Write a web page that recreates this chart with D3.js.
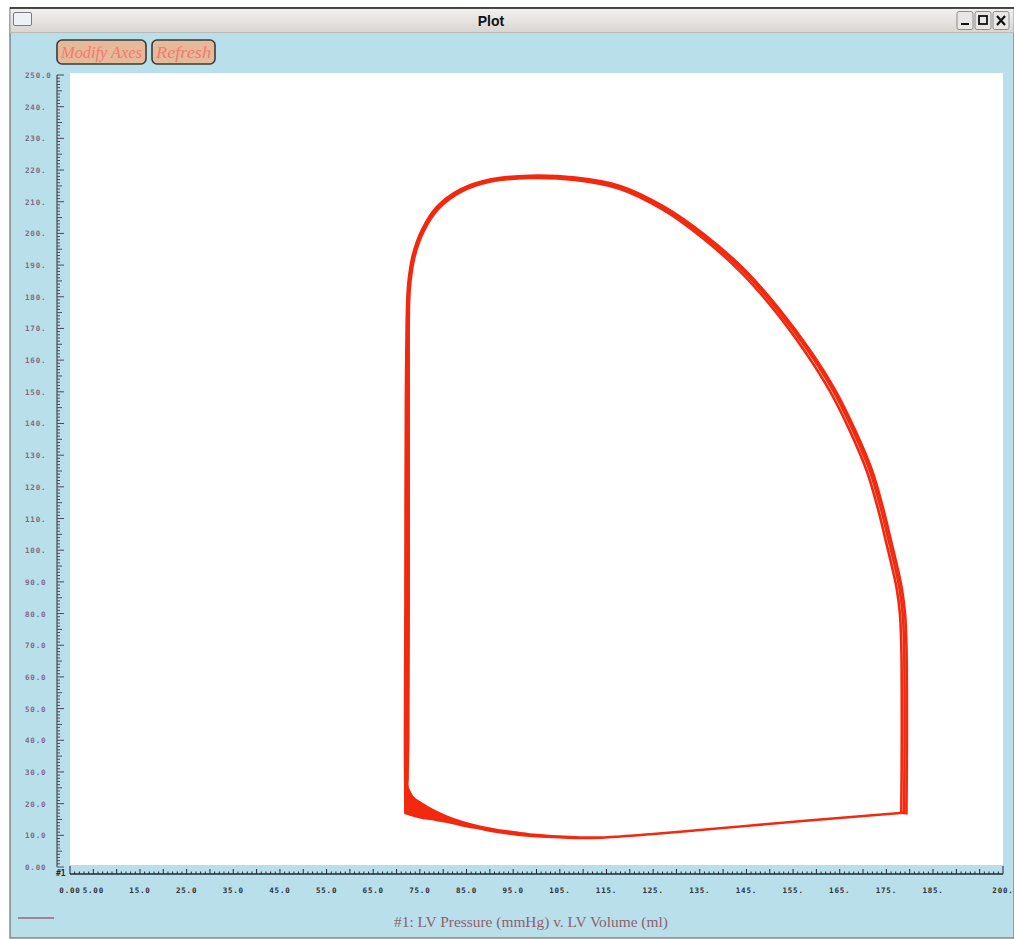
<!DOCTYPE html>
<html>
<head>
<meta charset="utf-8">
<script src="https://cdn.jsdelivr.net/npm/d3@7"></script>
<style>
html,body{margin:0;padding:0;background:#fff;}
svg{display:block;}
</style>
</head>
<body>
<svg id="chart" width="1014" height="939"></svg>
<script>
// ---------- DATA ----------
const xDomain = [0, 200];          // LV Volume (ml)
const yDomain = [0, 250];          // LV Pressure (mmHg)
const xLabelValues = [0, 5, 15, 25, 35, 45, 55, 65, 75, 85, 95, 105, 115, 125, 135, 145, 155, 165, 175, 185, 200];
const xLabelTexts  = ["0.00","5.00","15.0","25.0","35.0","45.0","55.0","65.0","75.0","85.0","95.0","105.","115.","125.","135.","145.","155.","165.","175.","185.","200."];
const yLabelValues = [0,10,20,30,40,50,60,70,80,90,100,110,120,130,140,150,160,170,180,190,200,210,220,230,240,250];
const yLabelTexts  = ["0.00","10.0","20.0","30.0","40.0","50.0","60.0","70.0","80.0","90.0","100.","110.","120.","130.","140.","150.","160.","170.","180.","190.","200.","210.","220.","230.","240.","250.0"];
const seriesName = "#1: LV Pressure (mmHg) v. LV Volume (ml)";
const buttonLabels = ["Modify Axes", "Refresh"];

// diastolic filling band over all cycles: [volume, lowest pressure, highest pressure]
const fillingBand = [[71.9,17.0,27.5],[72.6,16.6,24.5],[73.5,16.2,22.2],[75,15.6,20.5],[77.5,15.0,18.3],[80.8,14.2,16.0],[84,13.1,14.3],[87.9,12.0,12.8],[91.5,11.0,11.8],[96,10.1,10.9],[100,9.6,10.2],[105,9.25,9.7],[110,9.05,9.4],[114,9.15,9.4],[118,9.5,9.75],[125,10.3,10.55],[135,11.55,11.8],[157,14.4,14.65],[178.6,17.0,17.2]];

// systolic + relaxation traces of individual cycles: [volume, pressure]
const systoleA = [[179.3,16.9],[179.4,40],[179.3,70],[179.0,80],[178.3,88],[177.3,95],[176.0,103],[174.4,112.7],[171.9,125.3],[168.3,137.9],[164,150.6],[158.6,163.2],[152.2,175.8],[144.7,188.4],[136.1,199.5],[127.5,208.3],[117.9,215],[108.3,217.6],[98.6,218.2],[90,217],[83.6,213.8],[78.6,208.3],[75.4,201],[73.5,193.2],[72.6,185.3],[72.3,179],[72.0,147],[71.9,84],[71.8,40],[71.9,17.0]];
const systoleB = [[178.8,17.0],[178.9,40],[178.8,70],[178.5,80],[177.8,88],[176.8,95],[175.5,103],[173.9,112.7],[171.4,125.3],[167.8,137.9],[163.5,150.6],[158.1,163.2],[151.7,175.8],[144.3,188.2],[135.8,199.2],[127.3,208],[117.8,214.6],[108.3,217.2],[98.6,217.8],[90.1,216.7],[83.8,213.5],[78.8,208],[75.6,200.8],[73.7,193],[72.8,185.2],[72.5,179],[72.3,147],[72.3,84],[72.3,40],[72.3,20]];
const systoleC = [[178.2,17.1],[178.3,40],[178.2,70],[177.9,80],[177.2,88],[176.2,94.8],[174.9,102.8],[173.3,112.5],[170.8,125],[167.2,137.6],[162.9,150.2],[157.5,162.8],[151.2,175.4],[143.8,187.8],[135.4,198.8],[127,207.6],[117.6,214.2],[108.2,216.9],[98.6,217.5],[90.2,216.4],[83.9,213.2],[79,207.8],[75.8,200.6],[73.9,192.9],[73,185.1],[72.7,179],[72.6,147],[72.6,84],[72.5,40],[72.3,27.5]];
const systoleCycles = [systoleA, systoleB, systoleC];

// ---------- DRAW ----------
const svg = d3.select("#chart");
const W = 1014, H = 939;
const plot = {x0: 70, x1: 1003, y0: 73, y1: 865};
const x = d3.scaleLinear().domain(xDomain).range([70, 1003]);
const y = d3.scaleLinear().domain(yDomain).range([867, 75]);
const red = "#f2290f";

// window frame
const defs = svg.append("defs");
const g1 = defs.append("linearGradient").attr("id","tb").attr("x1",0).attr("y1",0).attr("x2",0).attr("y2",1);
g1.append("stop").attr("offset","0%").attr("stop-color","#f3f1ef");
g1.append("stop").attr("offset","100%").attr("stop-color","#d9d5d1");

svg.append("rect").attr("x",10).attr("y",8).attr("width",W-10).attr("height",H-9)
  .attr("fill","#b9dfea").attr("stroke","#6e6e6e").attr("stroke-width",1.2);
svg.append("rect").attr("x",10.5).attr("y",8.5).attr("width",W-11).attr("height",24)
  .attr("fill","url(#tb)");
svg.append("line").attr("x1",10).attr("x2",W).attr("y1",8).attr("y2",8).attr("stroke","#222").attr("stroke-width",1.5);
svg.append("line").attr("x1",10).attr("x2",W).attr("y1",32.5).attr("y2",32.5).attr("stroke","#bcbab8").attr("stroke-width",1);
svg.append("rect").attr("x",13.5).attr("y",12.5).attr("width",18).attr("height",13).attr("rx",1.5)
  .attr("fill","#eef2f6").attr("stroke","#7a7a7a");
svg.append("text").attr("x",491).attr("y",26).attr("text-anchor","middle")
  .attr("font-family","Liberation Sans, Arial, sans-serif").attr("font-weight","bold").attr("font-size",14).attr("fill","#111").text("Plot");
// window buttons
["min","max","close"].forEach((k,i)=>{
  const bx = 957 + i*18;
  svg.append("rect").attr("x",bx).attr("y",11.5).attr("width",16).attr("height",18).attr("rx",2)
    .attr("fill","#e9e7e5").attr("stroke","#8d8d8d");
  if(k==="min") svg.append("line").attr("x1",bx+4).attr("x2",bx+12).attr("y1",24).attr("y2",24).attr("stroke","#111").attr("stroke-width",2);
  if(k==="max") svg.append("rect").attr("x",bx+4).attr("y",16).attr("width",8).attr("height",8).attr("fill","none").attr("stroke","#111").attr("stroke-width",1.8);
  if(k==="close"){
    svg.append("path").attr("d",`M${bx+4},${16}L${bx+12},${25}M${bx+12},${16}L${bx+4},${25}`).attr("stroke","#111").attr("stroke-width",2.2);
  }
});

// toolbar buttons
const btnX = [57, 152], btnW = [89, 63];
buttonLabels.forEach((t,i)=>{
  svg.append("rect").attr("x",btnX[i]).attr("y",40).attr("width",btnW[i]).attr("height",24).attr("rx",5)
    .attr("fill","#e6b999").attr("stroke","#3a3a3a").attr("stroke-width",1.6);
  svg.append("text").attr("x",btnX[i]+btnW[i]/2).attr("y",57.5).attr("text-anchor","middle")
    .attr("font-family","Liberation Serif, Times New Roman, serif").attr("font-style","italic")
    .attr("font-size",16).attr("textLength", btnW[i]-8).attr("lengthAdjust","spacingAndGlyphs")
    .attr("fill","#f27a74").text(t);
});

// plot area
svg.append("rect").attr("x",plot.x0).attr("y",plot.y0).attr("width",plot.x1-plot.x0).attr("height",plot.y1-plot.y0).attr("fill","#ffffff");

// y axis (ticks to the right)
const axisColor = "#4a4a55";
const yAxisG = svg.append("g").attr("transform","translate(57,0)");
yAxisG.append("line").attr("x1",0).attr("x2",0).attr("y1",y(250)).attr("y2",y(0)).attr("stroke",axisColor).attr("stroke-width",1.2);
const yMinor = d3.range(0, 251, 1);
yAxisG.selectAll("line.t").data(yMinor).join("line").attr("class","t")
  .attr("x1",0).attr("x2",d => d%10===0 ? 7 : (d%5===0 ? 5 : 3))
  .attr("y1",d=>y(d)).attr("y2",d=>y(d)).attr("stroke",axisColor).attr("stroke-width",1);
svg.append("g").selectAll("text").data(yLabelValues).join("text")
  .attr("x",25).attr("y",d=>y(d)+3)
  .attr("font-family","DejaVu Sans Mono, monospace").attr("font-size",7.5).attr("font-weight","bold")
  .attr("letter-spacing",0.8).attr("fill","#7d6a86")
  .text((d,i)=>yLabelTexts[i]);

// x axis (ticks upward)
const xAxisG = svg.append("g").attr("transform","translate(0,874)");
xAxisG.append("line").attr("x1",x(0)).attr("x2",x(200)).attr("y1",0).attr("y2",0).attr("stroke","#222a33").attr("stroke-width",1.3);
const xMinor = d3.range(0, 201, 1);
xAxisG.selectAll("line.t").data(xMinor).join("line").attr("class","t")
  .attr("x1",d=>x(d)).attr("x2",d=>x(d)).attr("y1",0)
  .attr("y2",d => (d===0||d===200) ? -8 : (d%5===0 ? -5 : -2.5))
  .attr("stroke","#222a33").attr("stroke-width",1);
svg.append("text").attr("x",56).attr("y",876).attr("font-family","DejaVu Sans Mono, monospace")
  .attr("font-size",8).attr("font-weight","bold").attr("fill","#1e2530").text("#1");
svg.append("g").selectAll("text").data(xLabelValues).join("text")
  .attr("x",d=>x(d)).attr("y",892.5).attr("text-anchor","middle")
  .attr("font-family","DejaVu Sans Mono, monospace").attr("font-size",7.5).attr("font-weight","bold")
  .attr("letter-spacing",0.8).attr("fill","#2a3038")
  .text((d,i)=>xLabelTexts[i]);

// PV loops: filling band
const band = d3.area().x(d=>x(d[0])).y0(d=>y(d[1])).y1(d=>y(d[2])).curve(d3.curveMonotoneX);
svg.append("path").datum(fillingBand).attr("d", band).attr("fill", red)
  .attr("stroke", red).attr("stroke-width", 1.8).attr("stroke-linejoin","round");
// systolic traces
const line = d3.line().x(d=>x(d[0])).y(d=>y(d[1])).curve(d3.curveCatmullRom.alpha(0.5));
svg.append("g").selectAll("path").data(systoleCycles).join("path")
  .attr("d", line).attr("fill","none").attr("stroke",red).attr("stroke-width",2.6)
  .attr("stroke-linejoin","round").attr("stroke-linecap","round");

// legend
svg.append("line").attr("x1",18).attr("x2",54).attr("y1",918).attr("y2",918).attr("stroke","#a0607c").attr("stroke-width",1.5);
svg.append("text").attr("x",531).attr("y",927).attr("text-anchor","middle")
  .attr("font-family","Liberation Serif, Times New Roman, serif").attr("font-size",15.4)
  .attr("fill","#8e5f70").text(seriesName);
</script>
</body>
</html>
